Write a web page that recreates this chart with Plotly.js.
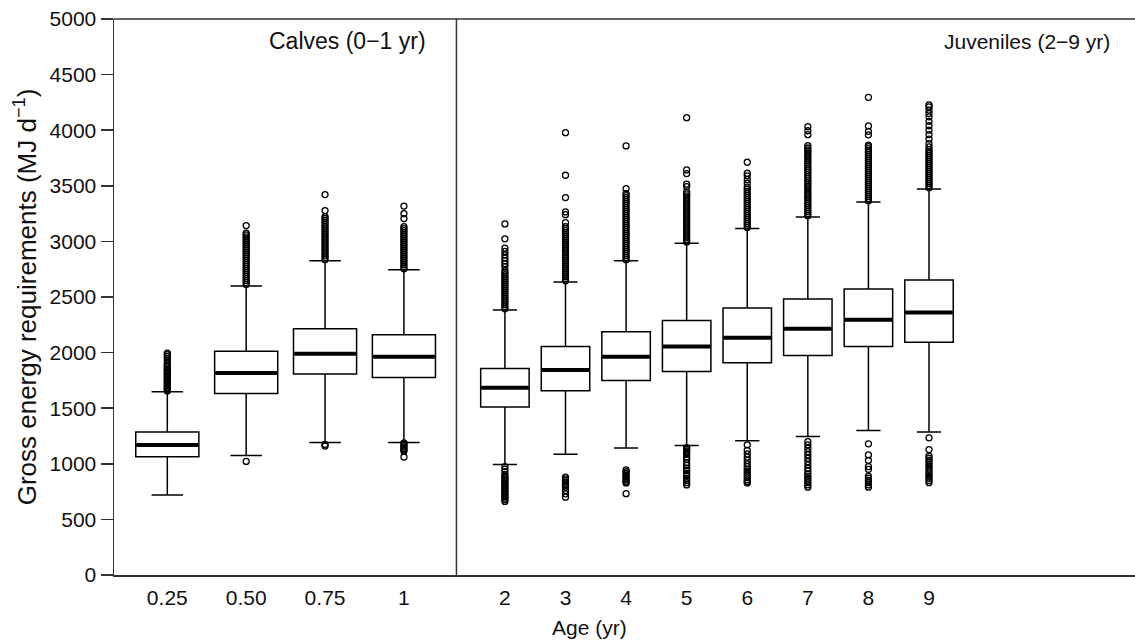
<!DOCTYPE html>
<html>
<head>
<meta charset="utf-8">
<script src="https://cdn.plot.ly/plotly-3.0.1.min.js"></script>
<style>
  html, body { margin: 0; padding: 0; background: #fff; }
  #chart { width: 1135px; height: 643px; }
</style>
</head>
<body>
<div id="chart"></div>
<script>
// ---------- DATA ----------
const calvesAges = ['0.25', '0.50', '0.75', '1'];
const calvesQ1 = [1063, 1632, 1807, 1776];
const calvesMedian = [1168, 1816, 1989, 1962];
const calvesQ3 = [1285, 2013, 2214, 2160];
const calvesLowerWhisker = [719, 1075, 1192, 1192];
const calvesUpperWhisker = [1647, 2600, 2825, 2744];

const juvenileAges = ['2', '3', '4', '5', '6', '7', '8', '9'];
const juvenileQ1 = [1510, 1656, 1749, 1830, 1908, 1974, 2055, 2094];
const juvenileMedian = [1683, 1843, 1962, 2055, 2133, 2214, 2295, 2360];
const juvenileQ3 = [1857, 2055, 2187, 2288, 2400, 2481, 2573, 2654];
const juvenileLowerWhisker = [994, 1087, 1141, 1165, 1207, 1246, 1300, 1285];
const juvenileUpperWhisker = [2384, 2636, 2825, 2984, 3115, 3220, 3355, 3472];

// outliers
const outliers_0_25 = [1655, 1668, 1680, 1691, 1703, 1716, 1728, 1739, 1752, 1764, 1777, 1789, 1800, 1813, 1826, 1838, 1850, 1863, 1875, 1888, 1900, 1925, 1950, 1966, 1982, 1996];
const outliers_0_50 = [1021, 2612, 2630, 2648, 2665, 2684, 2702, 2720, 2738, 2755, 2774, 2792, 2810, 2828, 2846, 2864, 2882, 2900, 2918, 2935, 2952, 2970, 2988, 3005, 3022, 3040, 3058, 3075, 3142];
const outliers_0_75 = [1160, 1175, 2836, 2853, 2870, 2888, 2906, 2924, 2941, 2958, 2976, 2994, 3012, 3030, 3048, 3066, 3084, 3102, 3120, 3137, 3155, 3172, 3190, 3207, 3223, 3277, 3421];
const outliers_1 = [1061, 1112, 1125, 1138, 1150, 1163, 1176, 1188, 2755, 2772, 2790, 2808, 2826, 2844, 2862, 2880, 2898, 2916, 2934, 2952, 2970, 2988, 3006, 3024, 3042, 3060, 3078, 3096, 3114, 3132, 3205, 3250, 3318];
const outliers_2 = [662, 678, 692, 706, 720, 734, 748, 762, 776, 790, 804, 818, 832, 846, 860, 874, 888, 902, 930, 952, 975, 2395, 2412, 2430, 2448, 2466, 2484, 2502, 2520, 2538, 2556, 2574, 2592, 2610, 2628, 2646, 2664, 2682, 2700, 2718, 2736, 2774, 2800, 2825, 2850, 2880, 2910, 2940, 3023, 3157];
const outliers_3 = [700, 730, 760, 790, 805, 820, 835, 850, 865, 880, 2646, 2664, 2682, 2700, 2718, 2736, 2754, 2772, 2790, 2808, 2826, 2844, 2862, 2880, 2898, 2916, 2934, 2952, 2970, 2988, 3006, 3024, 3042, 3060, 3078, 3096, 3114, 3132, 3169, 3240, 3265, 3394, 3595, 3978];
const outliers_4 = [731, 828, 840, 855, 870, 885, 900, 915, 930, 945, 2836, 2854, 2872, 2890, 2908, 2926, 2944, 2962, 2980, 2998, 3016, 3034, 3052, 3070, 3088, 3106, 3124, 3142, 3160, 3178, 3196, 3214, 3232, 3250, 3268, 3286, 3304, 3322, 3340, 3358, 3376, 3394, 3412, 3430, 3475, 3859];
const outliers_5 = [810, 830, 850, 870, 895, 915, 940, 960, 985, 1010, 1040, 1060, 1085, 1100, 1115, 1130, 1145, 2995, 3013, 3031, 3049, 3067, 3085, 3103, 3121, 3139, 3157, 3175, 3193, 3211, 3229, 3247, 3265, 3283, 3301, 3319, 3337, 3355, 3373, 3391, 3409, 3427, 3445, 3493, 3515, 3610, 3643, 4113];
const outliers_6 = [828, 840, 855, 875, 895, 915, 935, 955, 975, 1000, 1030, 1060, 1090, 1120, 1170, 3126, 3144, 3162, 3180, 3198, 3216, 3234, 3252, 3270, 3288, 3306, 3324, 3342, 3360, 3378, 3396, 3414, 3432, 3450, 3468, 3488, 3523, 3555, 3590, 3613, 3712];
const outliers_7 = [790, 810, 830, 850, 870, 890, 910, 935, 960, 990, 1020, 1050, 1080, 1110, 1140, 1170, 1200, 3231, 3250, 3268, 3287, 3305, 3324, 3342, 3361, 3379, 3398, 3416, 3435, 3453, 3472, 3490, 3509, 3527, 3546, 3564, 3583, 3601, 3620, 3638, 3657, 3675, 3694, 3712, 3731, 3749, 3768, 3786, 3805, 3823, 3840, 3862, 3960, 3995, 4032];
const outliers_8 = [790, 810, 830, 850, 870, 890, 950, 975, 1030, 1080, 1180, 3366, 3384, 3402, 3420, 3438, 3456, 3474, 3492, 3510, 3528, 3546, 3564, 3582, 3600, 3618, 3636, 3654, 3672, 3690, 3708, 3726, 3744, 3762, 3780, 3798, 3816, 3834, 3852, 3865, 3958, 3990, 4038, 4296];
const outliers_9 = [830, 850, 870, 890, 910, 930, 950, 970, 990, 1010, 1030, 1050, 1070, 1128, 1234, 3483, 3501, 3519, 3537, 3555, 3573, 3591, 3609, 3627, 3645, 3663, 3681, 3699, 3717, 3735, 3753, 3771, 3789, 3807, 3825, 3850, 3880, 3920, 3960, 4000, 4040, 4080, 4120, 4150, 4180, 4210, 4227];

const calvesOutliers = [outliers_0_25, outliers_0_50, outliers_0_75, outliers_1];
const juvenileOutliers = [outliers_2, outliers_3, outliers_4, outliers_5, outliers_6, outliers_7, outliers_8, outliers_9];

// ---------- STYLE ----------
const REG = 'Liberation Sans, Arial, Helvetica, sans-serif';
const AXIS_COLOR = '#333';
const TEXT_COLOR = '#111';

function boxTrace(cats, q1, med, q3, lo, hi, xa) {
  return {
    type: 'box', x: cats, q1: q1, median: med, q3: q3,
    lowerfence: lo, upperfence: hi,
    xaxis: xa, yaxis: 'y',
    width: 0.8, whiskerwidth: 0.5,
    fillcolor: '#ffffff',
    line: { color: '#000', width: 1.5 },
    boxpoints: false, hoverinfo: 'skip', showlegend: false
  };
}
function medianTrace(cats, med, xa) {
  return {
    type: 'box', x: cats, q1: med, median: med, q3: med,
    lowerfence: med, upperfence: med,
    xaxis: xa, yaxis: 'y',
    width: 0.78, whiskerwidth: 0,
    fillcolor: 'rgba(0,0,0,0)',
    line: { color: '#000', width: 4 },
    boxpoints: false, hoverinfo: 'skip', showlegend: false
  };
}
function outlierTrace(cats, lists, xa) {
  const xs = [], ys = [];
  cats.forEach((c, i) => lists[i].forEach(v => { xs.push(c); ys.push(v); }));
  return {
    type: 'scatter', mode: 'markers', x: xs, y: ys,
    xaxis: xa, yaxis: 'y',
    marker: { symbol: 'circle-open', size: 6, color: '#000', line: { width: 1.3, color: '#000' } },
    hoverinfo: 'skip', showlegend: false
  };
}

const traces = [
  boxTrace(calvesAges, calvesQ1, calvesMedian, calvesQ3, calvesLowerWhisker, calvesUpperWhisker, 'x'),
  medianTrace(calvesAges, calvesMedian, 'x'),
  outlierTrace(calvesAges, calvesOutliers, 'x'),
  boxTrace(juvenileAges, juvenileQ1, juvenileMedian, juvenileQ3, juvenileLowerWhisker, juvenileUpperWhisker, 'x2'),
  medianTrace(juvenileAges, juvenileMedian, 'x2'),
  outlierTrace(juvenileAges, juvenileOutliers, 'x2')
];

const SPLIT = 0.3354;

const layout = {
  width: 1135, height: 643,
  margin: { l: 114, r: 0, t: 19, b: 68, pad: 0 },
  paper_bgcolor: '#fff', plot_bgcolor: '#fff',
  showlegend: false,
  boxmode: 'overlay',
  xaxis: {
    domain: [0, SPLIT], anchor: 'y', type: 'category',
    categoryorder: 'array', categoryarray: calvesAges,
    range: [-0.676, 3.666],
    showline: true, linecolor: AXIS_COLOR, linewidth: 1.5,
    ticks: '', showgrid: false, zeroline: false,
    ticklabelstandoff: 3,
    tickfont: { family: REG, size: 21, color: TEXT_COLOR },
    fixedrange: true
  },
  xaxis2: {
    domain: [SPLIT, 1], anchor: 'y', type: 'category',
    categoryorder: 'array', categoryarray: juvenileAges,
    range: [-0.80, 10.40],
    showline: true, linecolor: AXIS_COLOR, linewidth: 1.5,
    ticks: '', showgrid: false, zeroline: false,
    ticklabelstandoff: 3,
    tickfont: { family: REG, size: 21, color: TEXT_COLOR },
    fixedrange: true
  },
  yaxis: {
    range: [0, 5000], tick0: 0, dtick: 500,
    ticks: 'outside', ticklen: 12, tickwidth: 1.5, tickcolor: AXIS_COLOR,
    showline: true, linecolor: AXIS_COLOR, linewidth: 1.5,
    showgrid: false, zeroline: false,
    tickfont: { family: REG, size: 21, color: TEXT_COLOR },
    title: { text: 'Gross energy requirements (MJ d<sup>−1</sup>)', font: { family: REG, size: 26, color: TEXT_COLOR }, standoff: 5 },
    fixedrange: true
  },
  shapes: [
    { type: 'line', xref: 'paper', yref: 'paper', x0: 0, x1: 1, y0: 1, y1: 1, line: { color: AXIS_COLOR, width: 1.5 } },
    { type: 'line', xref: 'paper', yref: 'paper', x0: SPLIT, x1: SPLIT, y0: 0, y1: 1, line: { color: AXIS_COLOR, width: 1.5 } }
  ],
  annotations: [
    { text: 'Calves (0−1 yr)', xref: 'paper', yref: 'paper', x: 0.3075, y: 0.960, xanchor: 'right', yanchor: 'middle', showarrow: false, font: { family: REG, size: 23, color: TEXT_COLOR } },
    { text: 'Juveniles (2−9 yr)', xref: 'paper', yref: 'paper', x: 0.9775, y: 0.960, xanchor: 'right', yanchor: 'middle', showarrow: false, font: { family: REG, size: 21, color: TEXT_COLOR } },
    { text: 'Age (yr)', xref: 'paper', yref: 'paper', x: 0.466, y: -0.0953, xanchor: 'center', yanchor: 'middle', showarrow: false, font: { family: REG, size: 21, color: TEXT_COLOR } }
  ]
};

Plotly.newPlot('chart', traces, layout, { displayModeBar: false, staticPlot: true });
</script>
</body>
</html>
